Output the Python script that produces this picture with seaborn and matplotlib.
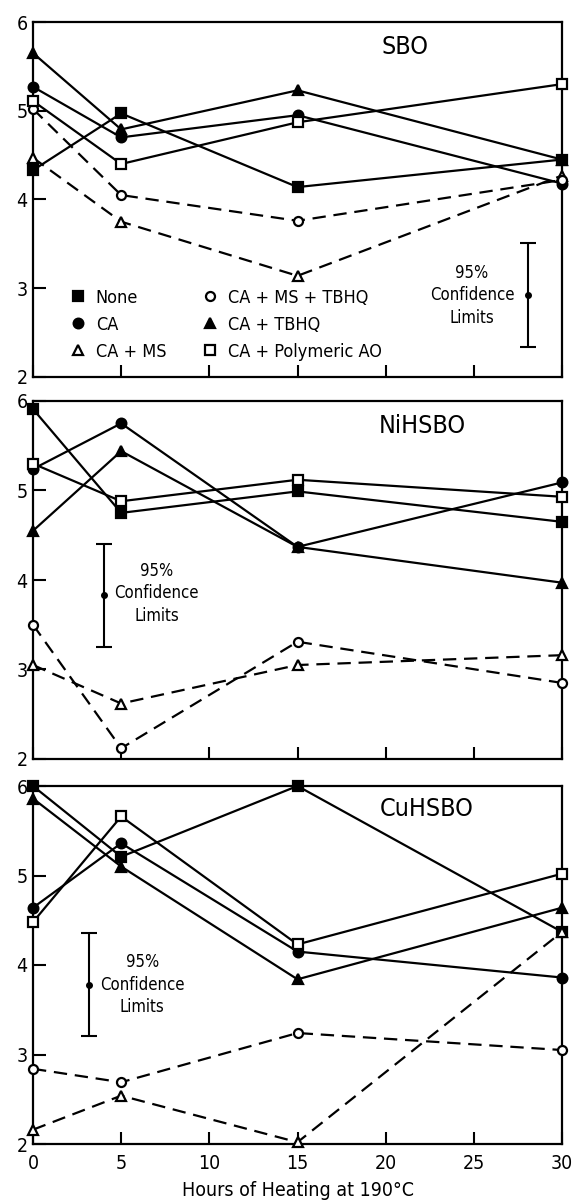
import pandas as pd
import matplotlib
matplotlib.use("Agg")
import matplotlib.pyplot as plt
from matplotlib.lines import Line2D
import seaborn as sns

hours = [0, 5, 15, 30]
series = ["None", "CA", "CA + MS", "CA + MS + TBHQ", "CA + TBHQ", "CA + Polymeric AO"]
oils = ["SBO", "NiHSBO", "CuHSBO"]

# values, one list per series, in hours order
sbo_none = [4.33, 4.97, 4.14, 4.45]
sbo_ca = [5.27, 4.70, 4.95, 4.18]
sbo_ca_ms = [4.47, 3.75, 3.14, 4.27]
sbo_ca_ms_tbhq = [5.02, 4.05, 3.76, 4.22]
sbo_ca_tbhq = [5.65, 4.79, 5.23, 4.45]
sbo_ca_poly = [5.11, 4.40, 4.87, 5.30]

ni_none = [5.91, 4.75, 4.99, 4.65]
ni_ca = [5.24, 5.75, 4.37, 5.09]
ni_ca_ms = [3.05, 2.62, 3.05, 3.16]
ni_ca_ms_tbhq = [3.50, 2.12, 3.31, 2.85]
ni_ca_tbhq = [4.55, 5.44, 4.37, 3.97]
ni_ca_poly = [5.30, 4.88, 5.12, 4.93]

cu_none = [6.00, 5.21, 6.00, 4.37]
cu_ca = [4.64, 5.36, 4.15, 3.86]
cu_ca_ms = [2.16, 2.54, 2.02, 4.37]
cu_ca_ms_tbhq = [2.84, 2.69, 3.24, 3.05]
cu_ca_tbhq = [5.86, 5.10, 3.84, 4.64]
cu_ca_poly = [4.48, 5.66, 4.23, 5.02]

# 95% confidence limit bars: x position, centre, half width
ci_x = [28.1, 4.0, 3.2]
ci_mid = [2.92, 3.83, 3.78]
ci_half = [0.585, 0.575, 0.575]

panel_values = {
    "SBO": [sbo_none, sbo_ca, sbo_ca_ms, sbo_ca_ms_tbhq, sbo_ca_tbhq, sbo_ca_poly],
    "NiHSBO": [ni_none, ni_ca, ni_ca_ms, ni_ca_ms_tbhq, ni_ca_tbhq, ni_ca_poly],
    "CuHSBO": [cu_none, cu_ca, cu_ca_ms, cu_ca_ms_tbhq, cu_ca_tbhq, cu_ca_poly],
}

rows = []
for oil in oils:
    for name, vals in zip(series, panel_values[oil]):
        for h, v in zip(hours, vals):
            rows.append({"oil": oil, "series": name, "hours": h, "value": v})
df = pd.DataFrame(rows)

# marker, filled, dashed
styles = {
    "None": ("s", True, False),
    "CA": ("o", True, False),
    "CA + MS": ("^", False, True),
    "CA + MS + TBHQ": ("o", False, True),
    "CA + TBHQ": ("^", True, False),
    "CA + Polymeric AO": ("s", False, False),
}

sns.set_style("ticks")
plt.rcParams["font.family"] = ["DejaVu Sans"]
plt.rcParams["font.stretch"] = "condensed"
for k in ["text.color", "axes.labelcolor", "xtick.color", "ytick.color"]:
    plt.rcParams[k] = "black"

fig = plt.figure(figsize=(5.74, 12.02), dpi=100)
W, H = 574, 1202
boxes = [(22, 377), (401, 759), (786, 1144)]
axes = [fig.add_axes([33 / W, 1 - b / H, 529 / W, (b - t) / H]) for t, b in boxes]

for i, (ax, oil) in enumerate(zip(axes, oils)):
    sub = df[df["oil"] == oil]
    for name in series:
        m, filled, dashed = styles[name]
        d = sub[sub["series"] == name]
        sns.lineplot(data=d, x="hours", y="value", ax=ax, color="k",
                     marker=m, markersize=7 if filled else 6.5,
                     markerfacecolor="k" if filled else "white",
                     markeredgecolor="k", markeredgewidth=1.6,
                     linewidth=1.6, linestyle=(0, (6, 3.5)) if dashed else "-",
                     clip_on=False, zorder=5)
    ax.set_xlim(0, 30)
    ax.set_ylim(2, 6)
    ax.set_xticks([0, 5, 10, 15, 20, 25, 30])
    ax.set_yticks([2, 3, 4, 5, 6])
    ax.tick_params(direction="in", length=9, width=1.5, labelsize=14, pad=4)
    ax.tick_params(axis="x", pad=7)
    ax.set_xlabel("")
    ax.set_ylabel("")
    for s in ax.spines.values():
        s.set_visible(True)
        s.set_linewidth(1.6)
        s.set_color("k")
    if i < 2:
        ax.tick_params(axis="x", labelbottom=False)
    ax.errorbar([ci_x[i]], [ci_mid[i]], yerr=[ci_half[i]], fmt="o", color="k",
                ms=4, capsize=6, elinewidth=1.5, capthick=1.5)

axes[0].text(21.1, 5.72, "SBO", ha="center", va="center", fontsize=18)
axes[1].text(22.1, 5.72, "NiHSBO", ha="center", va="center", fontsize=18)
axes[2].text(22.3, 5.74, "CuHSBO", ha="center", va="center", fontsize=18)

axes[0].text(24.9, 2.92, "95%\nConfidence\nLimits", ha="center", va="center",
             fontsize=12, linespacing=1.3)
axes[1].text(7.0, 3.85, "95%\nConfidence\nLimits", ha="center", va="center",
             fontsize=12, linespacing=1.3)
axes[2].text(6.2, 3.78, "95%\nConfidence\nLimits", ha="center", va="center",
             fontsize=12, linespacing=1.3)

handles = []
for name in series:
    m, filled, dashed = styles[name]
    handles.append(Line2D([], [], color="k", linestyle="", marker=m,
                          markersize=7 if filled else 6.5,
                          markerfacecolor="k" if filled else "white",
                          markeredgewidth=1.6))
axes[0].legend(handles, series, ncol=2, frameon=False, loc="lower left",
               bbox_to_anchor=(0.04, 0.0), fontsize=13, handlelength=0.8,
               handletextpad=0.6, columnspacing=2.0, labelspacing=0.5)

axes[2].set_xlabel("Hours of Heating at 190°C", fontsize=14, labelpad=6)

fig.savefig("out.png", dpi=100)
